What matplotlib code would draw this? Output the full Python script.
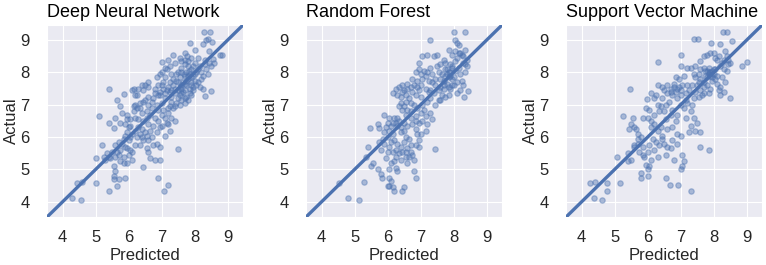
import numpy as np
import matplotlib
matplotlib.use("Agg")
import matplotlib.pyplot as plt
import seaborn as sns

# (predicted, actual) pairs
dnn_pred = [8.29, 8.47, 8.35, 8.42, 8.24, 7.87, 8.52, 7.71, 7.76, 7.34, 7.2, 7.0, 8.02, 8.45, 8.55, 8.77, 8.82, 8.3, 8.45, 8.5,
            8.35, 8.42, 8.25, 8.49, 8.32, 8.24, 8.2, 8.6, 8.1, 8.15, 8.0, 7.9, 7.6,
            7.9, 7.8, 7.75, 7.7, 7.8, 7.65, 7.9, 8.0, 7.85, 7.95, 7.75, 7.85, 7.6, 7.55, 7.7, 7.95, 8.05, 7.8, 7.7, 7.6,
            7.45, 7.35, 7.5, 7.4, 7.55, 7.75, 7.85, 8.05, 7.3, 7.2,
            7.6, 7.5, 7.3, 7.1, 7.25, 7.0, 6.9, 7.05, 6.8, 6.6, 6.5, 6.45, 6.3, 6.15, 6.1, 6.25, 6.85, 7.0, 7.15, 6.95, 7.1, 7.25,
            5.41, 5.86, 5.66, 5.1, 5.4, 5.6, 5.8, 5.95, 6.15, 6.2, 6.4, 6.55, 6.7, 6.85,
            6.19, 6.5, 6.75, 6.9, 7.1, 7.3, 7.5, 7.6, 7.7, 7.9, 7.7, 7.0, 6.6, 6.35, 7.2, 7.4,
            7.2, 7.3, 7.4, 7.2, 7.25, 7.11, 6.95, 6.9, 6.75, 6.6, 6.5, 6.4, 6.3, 6.2, 6.0, 7.0, 6.8, 6.45,
            5.56, 5.75, 5.9, 5.95, 6.05, 5.85, 5.7, 5.8, 5.6, 5.9, 6.1,
            5.75, 5.95, 6.1, 6.2, 6.35, 6.55, 6.75, 6.85, 6.4, 6.55, 6.7, 7.49, 6.95,
            6.65, 6.8, 6.95, 6.6, 6.0, 6.1, 5.85, 5.95, 5.75, 5.55, 5.6,
            5.25, 5.35, 5.45, 5.2, 5.4, 5.0, 5.5, 5.6,
            6.43, 5.55, 5.55, 5.7, 5.9, 5.65, 5.42, 5.02, 6.9, 7.19, 7.08, 4.43, 4.58, 4.3, 4.55]
dnn_act = [9.26, 9.26, 9.0, 9.02, 8.89, 8.92, 8.95, 8.6, 8.52, 8.53, 8.4, 8.32, 8.69, 8.65, 8.42, 8.55, 8.55, 8.4, 8.3, 8.2,
           8.1, 7.95, 7.9, 7.42, 7.26, 7.49, 7.8, 8.3, 8.45, 8.2, 8.3, 8.45, 8.35,
           8.1, 8.2, 8.0, 7.9, 7.8, 7.7, 7.7, 7.75, 7.95, 7.9, 7.6, 7.5, 7.5, 7.85, 7.45, 7.55, 8.0, 8.35, 8.25, 8.0,
           7.75, 7.6, 7.45, 7.35, 7.3, 7.25, 7.35, 7.6, 7.45, 7.55,
           8.15, 8.0, 7.95, 7.85, 7.7, 7.6, 7.6, 7.5, 7.5, 7.55, 7.6, 7.45, 7.5, 7.5, 7.45, 7.3, 7.85, 8.0, 8.1, 7.3, 7.35, 7.4,
           7.49, 7.34, 7.14, 6.64, 6.45, 6.6, 6.75, 6.7, 6.8, 6.6, 6.75, 6.8, 6.9, 7.0,
           7.0, 7.15, 7.2, 7.3, 7.2, 7.1, 7.2, 7.35, 7.2, 7.3, 7.05, 7.05, 7.0, 6.9, 6.9, 6.95,
           6.75, 6.6, 6.5, 6.4, 6.2, 6.04, 6.3, 6.5, 6.35, 6.4, 6.15, 6.25, 6.3, 6.2, 6.3, 6.7, 6.6, 6.5,
           6.28, 6.45, 6.4, 6.15, 6.0, 5.95, 5.85, 5.8, 5.75, 6.05, 6.1,
           5.6, 5.65, 5.55, 5.75, 5.75, 5.65, 5.75, 5.8, 6.0, 6.05, 6.0, 5.63, 5.7,
           5.35, 5.3, 5.3, 5.55, 5.45, 5.3, 5.2, 5.2, 5.25, 5.1, 4.95,
           5.4, 5.5, 5.35, 5.75, 5.4, 5.35, 5.55, 5.4,
           5.07, 4.8, 4.7, 4.7, 4.75, 4.5, 4.33, 4.57, 4.75, 4.51, 4.34, 4.57, 4.6, 4.13, 4.05]
# denser parts of the DNN cloud
dnn_pred_more = [7.8, 7.75, 7.9, 7.7, 7.82, 7.68, 7.88, 7.6, 7.5, 7.4, 7.35, 7.45, 7.55, 7.65, 7.95, 7.8, 7.6, 7.45, 7.3,
                 7.15, 7.05, 6.95, 6.8, 6.7, 6.6, 6.45, 6.35, 6.25, 6.15, 6.05, 6.3, 6.55, 6.65, 6.9, 7.05, 7.1, 7.15,
                 6.85, 6.65, 6.35, 6.25, 6.45, 6.6, 6.0, 5.9, 6.05, 5.7, 5.85, 5.3, 5.65, 8.1, 8.2, 8.0, 7.95, 8.3,
                 8.1, 8.15, 7.7, 7.55, 7.25, 7.4, 6.95, 7.1, 6.6, 6.4, 6.2, 5.75, 5.95, 6.05, 7.35, 7.55, 7.25, 7.0]
dnn_act_more = [7.9, 7.75, 7.85, 7.65, 8.05, 7.95, 7.62, 7.6, 7.7, 7.5, 7.8, 7.95, 7.55, 7.4, 7.45, 7.15, 7.15, 7.05, 7.25,
                7.45, 7.7, 7.4, 7.35, 7.1, 7.25, 7.1, 7.05, 6.9, 6.95, 6.55, 6.55, 6.6, 6.7, 6.85, 6.85, 6.6, 6.45,
                6.15, 6.2, 6.1, 6.0, 5.9, 5.9, 5.9, 5.7, 5.6, 5.45, 5.4, 5.3, 5.55, 8.1, 8.0, 7.95, 8.2, 8.25,
                7.7, 7.55, 8.4, 8.45, 8.2, 8.3, 7.95, 8.15, 7.7, 7.6, 7.3, 6.95, 6.55, 6.35, 6.9, 7.0, 6.95, 6.35]

rf_pred = [8.0, 8.34, 7.28, 8.05, 8.1, 8.15, 7.85, 7.95, 8.05, 8.2, 8.3, 8.35, 8.4, 7.05, 7.2, 7.5,
           6.95, 6.85, 7.1, 7.2, 7.15, 8.35, 8.35, 8.2, 8.15, 8.43, 8.32, 8.1, 8.25, 8.0,
           7.8, 7.9, 7.85, 7.75, 7.95, 7.7, 7.8, 7.6, 7.55, 7.5, 7.45, 7.4, 7.7, 7.9, 7.65, 7.85,
           7.95, 8.05, 7.75, 7.6, 7.35, 7.3, 7.55, 7.65,
           6.25, 6.35, 6.45, 6.5, 6.6, 6.7, 6.8, 6.9, 6.75, 6.85, 6.95, 6.55, 6.3, 6.15, 6.65, 7.0,
           6.4, 6.5, 6.6, 6.7, 6.8, 6.9, 7.05, 7.2, 7.3, 7.1, 7.3, 7.35, 7.2, 7.15, 7.05, 6.95, 6.85, 6.9, 7.0,
           5.88, 5.7, 5.75, 6.05, 6.2, 6.25, 6.35, 6.4, 6.3, 6.1, 6.05, 6.15, 6.0, 5.85, 6.2, 6.3, 6.5, 6.55, 6.65,
           6.7, 6.85, 6.95, 6.6, 6.45, 6.35, 6.55, 6.65, 6.75, 6.8, 6.25, 6.2, 6.1, 6.25, 6.3, 6.15, 6.05, 5.9, 5.8, 5.75,
           5.46, 5.42, 5.35, 5.55, 5.5, 5.7, 5.8, 5.83, 6.05, 6.1, 6.0, 6.05, 6.15, 6.18, 6.45, 6.5, 6.87, 6.8,
           7.43, 5.29, 4.53, 4.8, 5.15, 6.7, 6.95, 6.05]
rf_act = [9.26, 9.26, 9.0, 9.0, 8.9, 8.85, 8.7, 8.55, 8.65, 8.6, 8.5, 8.7, 8.4, 8.5, 8.55, 8.55,
          8.3, 8.0, 8.05, 8.0, 7.9, 8.25, 8.0, 7.95, 8.15, 7.42, 7.23, 7.35, 7.75, 7.6,
          8.1, 8.0, 7.85, 7.9, 7.8, 7.75, 7.65, 7.8, 8.0, 8.2, 7.6, 7.35, 7.5, 7.5, 7.3, 7.3,
          8.2, 8.35, 8.3, 7.55, 7.7, 7.45, 7.15, 7.95,
          7.5, 7.55, 7.6, 7.45, 7.5, 7.55, 7.6, 7.55, 7.4, 7.3, 7.45, 7.3, 7.3, 7.35, 7.2, 7.25,
          7.05, 6.95, 6.85, 6.8, 7.0, 6.9, 7.0, 7.1, 7.2, 6.85, 6.75, 6.55, 6.4, 6.2, 6.5, 6.45, 6.25, 6.1, 6.1,
          6.69, 6.4, 6.28, 6.6, 6.6, 6.45, 6.5, 6.3, 6.35, 6.35, 6.2, 6.1, 6.0, 5.95, 5.9, 5.8, 6.2, 6.0, 5.95,
          5.75, 5.75, 5.7, 5.65, 5.55, 5.5, 5.4, 5.4, 5.45, 5.3, 5.4, 5.25, 5.2, 5.05, 4.95, 5.55, 5.7, 5.8, 5.6, 5.85,
          6.28, 5.68, 5.4, 5.2, 5.1, 5.0, 4.85, 4.75, 4.75, 4.65, 4.5, 4.5, 4.45, 4.34, 4.33, 4.45, 4.75, 4.95,
          5.63, 4.62, 4.59, 4.13, 4.05, 5.55, 5.9, 5.0]
rf_pred_more = [7.85, 7.9, 7.95, 8.0, 7.8, 7.75, 7.9, 8.05, 8.1, 7.95, 7.85, 7.7, 7.55, 7.45, 7.35, 7.25, 7.15, 7.25,
                7.0, 7.05, 6.9, 6.75, 6.6, 6.45, 6.4, 6.55, 6.7, 6.45, 6.35, 6.55, 6.7, 6.85, 7.0, 7.15, 7.45, 7.6,
                7.75, 6.5, 6.4, 6.6, 6.75, 6.85, 6.5, 6.4, 6.55, 6.25, 6.1, 6.0, 5.95, 6.4, 6.6, 6.3, 6.15, 5.95,
                5.9, 6.0, 8.3, 8.4, 8.25, 8.1, 8.15, 7.7, 7.6, 8.2, 8.3, 7.4, 6.95, 7.0, 7.3]
rf_act_more = [8.0, 7.9, 8.15, 7.85, 7.95, 8.1, 8.25, 8.05, 7.7, 7.6, 7.55, 7.6, 7.45, 7.8, 7.95, 7.75, 7.5, 7.4,
               7.6, 7.8, 7.75, 7.8, 7.65, 7.4, 7.25, 7.1, 7.05, 6.85, 6.95, 6.7, 6.6, 6.65, 6.75, 6.65, 7.0, 7.15,
               7.25, 6.45, 6.15, 6.35, 6.4, 6.5, 5.85, 5.7, 5.55, 5.6, 5.85, 5.55, 5.35, 5.3, 5.2, 6.6, 6.45, 6.3,
               6.15, 6.45, 8.3, 8.2, 8.55, 8.45, 8.6, 8.4, 8.25, 7.45, 7.6, 8.5, 8.1, 7.95, 8.15]

svm_pred = [8.28, 8.4, 7.42, 7.52, 7.92, 8.2, 8.55, 8.85, 9.0, 6.31, 7.02,
            7.6, 7.8, 7.7, 7.9, 8.0, 8.1, 8.3, 8.35, 8.4, 8.45, 8.5, 8.2, 8.3,
            8.05, 8.1, 8.2, 8.35, 8.3, 8.2, 8.5,
            7.8, 7.85, 7.9, 7.75, 7.95, 7.7, 7.8, 7.6, 7.5, 7.45, 7.65, 7.85, 7.9, 8.0, 7.95, 7.7, 7.55,
            7.1, 6.95, 7.2, 7.4, 7.3,
            6.6, 6.45, 6.3, 6.5, 6.7, 6.8, 6.9, 6.85, 7.0, 6.75, 6.65, 6.55, 6.25, 6.1, 6.2,
            5.46, 5.99, 5.95, 6.05, 6.35, 6.5, 6.75, 6.9, 7.0, 7.1, 7.2, 7.35, 7.3, 7.4, 7.5, 7.3, 7.45, 7.6,
            5.24, 5.55, 5.85, 5.5, 5.6, 5.45, 5.7, 5.8, 5.7, 5.6, 5.75, 5.85, 5.9, 5.5, 5.4, 5.06,
            6.1, 6.2, 6.3, 6.4, 6.45, 6.6, 6.75, 6.9, 7.0, 6.5, 6.6, 6.7, 6.25, 6.15, 6.05, 6.0, 6.3, 6.55,
            6.8, 7.05, 7.1, 7.05, 7.0, 7.6, 7.85, 6.05, 6.0, 5.95, 5.8, 5.81, 6.0, 6.57, 6.67, 6.92, 7.3,
            5.16, 4.78, 4.78, 4.25, 4.4, 4.38, 4.63, 5.6, 5.4]
svm_act = [9.26, 9.26, 9.02, 9.02, 8.92, 8.87, 8.97, 8.19, 8.32, 8.32, 8.53,
           8.35, 8.55, 8.5, 8.6, 8.6, 8.4, 8.4, 8.65, 8.5, 8.4, 8.3, 8.2, 8.1,
           7.8, 7.65, 7.55, 7.7, 7.4, 7.3, 7.21,
           8.05, 7.95, 8.0, 7.9, 7.85, 7.7, 7.6, 7.8, 7.6, 7.4, 7.3, 7.35, 7.5, 8.1, 7.95, 8.15, 7.95,
           7.9, 7.8, 7.6, 7.95, 8.15,
           7.6, 7.55, 7.6, 7.45, 7.5, 7.55, 7.5, 7.4, 7.45, 7.3, 7.1, 7.0, 7.3, 7.35, 7.2,
           7.49, 7.19, 6.9, 6.85, 6.8, 6.8, 6.85, 6.7, 7.0, 6.9, 7.05, 7.0, 6.8, 6.6, 6.45, 6.35, 6.2, 6.15,
           6.66, 6.6, 6.6, 6.4, 6.3, 6.25, 6.1, 6.0, 5.8, 5.7, 5.55, 5.45, 5.4, 5.3, 5.25, 5.38,
           6.3, 6.4, 6.2, 6.3, 6.05, 6.25, 6.3, 6.1, 6.05, 5.8, 5.7, 5.65, 5.85, 5.95, 5.75, 5.55, 5.4, 5.45,
           5.3, 5.45, 5.25, 5.1, 5.0, 5.7, 5.6, 5.1, 5.0, 5.15, 4.9, 4.75, 4.8, 4.75, 4.51, 4.52, 4.33,
           4.57, 4.57, 4.33, 4.59, 4.6, 4.13, 4.05, 5.75, 5.5]
svm_pred_more = [7.85, 7.9, 7.95, 7.8, 7.75, 7.85, 8.0, 8.05, 8.1, 7.95, 7.7, 7.6, 7.55, 7.45, 7.35, 7.25, 7.15, 7.0,
                 7.05, 6.95, 6.8, 6.7, 6.6, 6.9, 7.15, 7.4, 7.55, 7.7, 8.15, 8.25, 8.4, 8.45, 8.25, 8.15, 8.05,
                 7.6, 7.45, 7.2, 7.0, 6.85, 6.45, 6.4, 6.3, 6.2, 6.0, 6.1, 6.55, 6.7, 6.85, 7.15, 7.25, 6.9, 6.75,
                 6.45, 6.35, 6.2, 6.1, 5.85, 5.7, 5.65]
svm_act_more = [8.0, 7.9, 8.05, 7.85, 8.05, 8.15, 7.95, 8.1, 7.9, 7.75, 7.55, 7.45, 7.7, 7.85, 7.6, 7.45, 7.35, 7.3,
                7.6, 7.55, 7.65, 7.4, 7.35, 7.2, 7.15, 7.2, 7.25, 7.35, 7.45, 7.85, 8.05, 8.25, 8.3, 8.5, 8.45,
                8.1, 8.2, 8.15, 8.2, 7.85, 7.2, 6.95, 7.0, 6.7, 6.6, 6.5, 6.55, 6.7, 6.5, 6.6, 6.15, 5.8, 5.9,
                5.95, 5.75, 5.6, 5.3, 5.7, 5.95, 6.25]

titles = ["Deep Neural Network", "Random Forest", "Support Vector Machine"]
series = [(dnn_pred + dnn_pred_more, dnn_act + dnn_act_more),
          (rf_pred + rf_pred_more, rf_act + rf_act_more),
          (svm_pred + svm_pred_more, svm_act + svm_act_more)]

sns.set_style("darkgrid")
plt.rcParams["font.family"] = ["Liberation Sans", "DejaVu Sans"]
blue = sns.color_palette("deep")[0]

fig = plt.figure(figsize=(7.66, 2.65), dpi=100)
lefts = [0.0614, 0.3995, 0.739]
for left, title, (pred, act) in zip(lefts, titles, series):
    ax = fig.add_axes([left, 0.181, 0.256, 0.725])
    ax.scatter(pred, act, s=15, color=blue, alpha=0.42, linewidths=0.9, zorder=2)
    ax.plot([3, 10], [3, 10], color=blue, lw=2.4, zorder=3)
    ax.set_xlim(3.53, 9.47)
    ax.set_ylim(3.53, 9.47)
    ax.set_xticks([4, 5, 6, 7, 8, 9])
    ax.set_yticks([4, 5, 6, 7, 8, 9])
    ax.tick_params(labelsize=12, colors="#262626")
    ax.tick_params(axis="x", pad=6)
    ax.tick_params(axis="y", pad=9)
    ax.set_xlabel("Predicted", fontsize=12, color="#262626", labelpad=2)
    ax.set_ylabel("Actual", fontsize=12, color="#262626", labelpad=1)
    ax.set_title(title, fontsize=13, color="black", loc="left", pad=6)

fig.savefig("out.png", dpi=100)
